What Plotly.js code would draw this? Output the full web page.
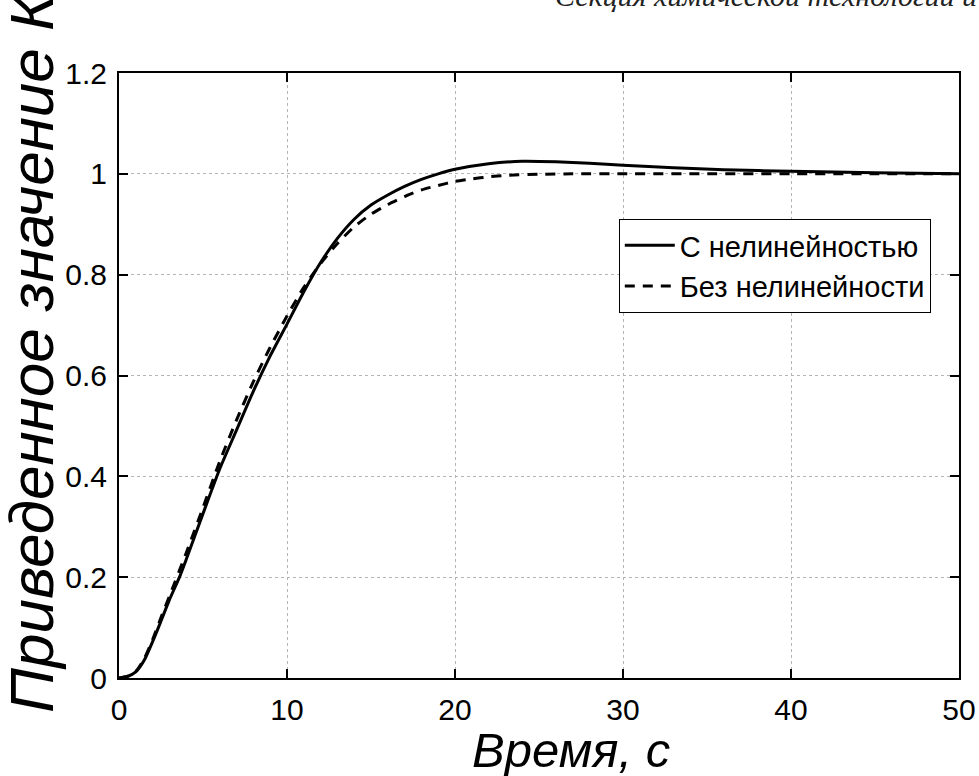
<!DOCTYPE html>
<html>
<head>
<meta charset="utf-8">
<script src="https://cdn.plot.ly/plotly-3.0.1.min.js"></script>
<style>html,body{margin:0;padding:0;background:#fff;}#chart{width:979px;height:776px;}</style>
</head>
<body>
<div id="chart"></div>
<script>
// Время, с
const timeNonlin = [0, 0.5, 1, 1.5, 2, 2.5, 3, 3.6, 4, 5, 6, 7, 8, 9, 10, 11, 12, 13, 14, 15, 16, 17, 18, 19, 20, 22, 24, 26, 28, 30, 33, 36, 40, 45, 50];
// С нелинейностью
const valNonlin = [0, 0.003, 0.012, 0.035, 0.072, 0.113, 0.155, 0.2, 0.235, 0.326, 0.415, 0.492, 0.569, 0.639, 0.702, 0.766, 0.824, 0.872, 0.91, 0.938, 0.958, 0.975, 0.989, 1.0, 1.009, 1.02, 1.025, 1.024, 1.021, 1.017, 1.012, 1.008, 1.005, 1.002, 1.0];
// Без нелинейности
const timeLin = [0, 0.5, 1, 1.5, 2, 2.5, 3, 4, 5, 6, 7, 8, 9, 10, 11, 12, 13, 14, 15, 16, 17, 18, 19, 20, 21, 22, 23, 25, 27, 30, 35, 40, 45, 50];
const valLin = [0, 0.003, 0.013, 0.038, 0.076, 0.12, 0.162, 0.248, 0.338, 0.43, 0.512, 0.588, 0.656, 0.718, 0.775, 0.822, 0.862, 0.895, 0.92, 0.939, 0.955, 0.968, 0.977, 0.985, 0.99, 0.994, 0.997, 0.999, 1.0, 1.0, 1.0, 1.0, 1.0, 1.0];

const seriesNames = ['С нелинейностью', 'Без нелинейности'];
const xTicks = [0, 10, 20, 30, 40, 50];
const yTicks = [0, 0.2, 0.4, 0.6, 0.8, 1, 1.2];
const yTickText = ['0', '0.2', '0.4', '0.6', '0.8', '1', '1.2'];
const xTitle = 'Время, с';
const yTitle = 'Приведенное значение Кс';
const headerText = 'Секция химической технологии и';

const traces = [
  {x: timeNonlin, y: valNonlin, name: seriesNames[0], mode: 'lines',
   line: {color: '#000', width: 3, shape: 'spline', smoothing: 0.6}},
  {x: timeLin, y: valLin, name: seriesNames[1], mode: 'lines',
   line: {color: '#000', width: 3, dash: '10px,8px', shape: 'spline', smoothing: 0.6}}
];

const axisCommon = {
  showline: true, linecolor: '#000', linewidth: 2, mirror: 'allticks',
  ticks: 'inside', ticklen: 9, tickwidth: 2, tickcolor: '#000',
  showgrid: true, gridcolor: '#b4b4b4', gridwidth: 1, griddash: 'dot',
  zeroline: false,
  tickfont: {family: 'Arial, Liberation Sans, sans-serif', size: 30, color: '#000'}
};

const layout = {
  width: 979, height: 776,
  margin: {l: 119, r: 20, t: 73, b: 98, pad: 0},
  paper_bgcolor: '#fff', plot_bgcolor: '#fff',
  showlegend: true,
  xaxis: Object.assign({}, axisCommon, {range: [0, 50], tickvals: xTicks, ticktext: xTicks.map(String), ticklabelstandoff: 4}),
  yaxis: Object.assign({}, axisCommon, {range: [0, 1.2], tickvals: yTicks, ticktext: yTickText, ticklabelstandoff: 4}),
  legend: {
    x: 0.595, xanchor: 'left', y: (678 - 219) / 605, yanchor: 'top',
    bgcolor: '#fff', bordercolor: '#000', borderwidth: 1,
    itemwidth: 50,
    font: {family: 'Arial, Liberation Sans, sans-serif', size: 29, color: '#000'}
  },
  annotations: [
    {text: xTitle, xref: 'paper', yref: 'paper', x: (571 - 119) / 840, y: (678 - 750) / 605,
     xanchor: 'center', yanchor: 'middle', showarrow: false,
     font: {family: 'Arial, Liberation Sans, sans-serif', size: 49, color: '#000', style: 'italic'}},
    {text: yTitle, xref: 'paper', yref: 'paper', x: (31 - 119) / 840, y: (678 - 715) / 605,
     xanchor: 'center', yanchor: 'bottom', textangle: -90, showarrow: false,
     font: {family: 'Arial, Liberation Sans, sans-serif', size: 62, color: '#000', style: 'italic'}},
    {text: headerText, xref: 'paper', yref: 'paper', x: (979 - 119) / 840, y: (678 - 14) / 605,
     xanchor: 'right', yanchor: 'bottom', showarrow: false,
     font: {family: 'Liberation Serif, DejaVu Serif, serif', size: 30, color: '#222', style: 'italic'}}
  ]
};

Plotly.newPlot('chart', traces, layout, {displayModeBar: false, staticPlot: true});
</script>
</body>
</html>
